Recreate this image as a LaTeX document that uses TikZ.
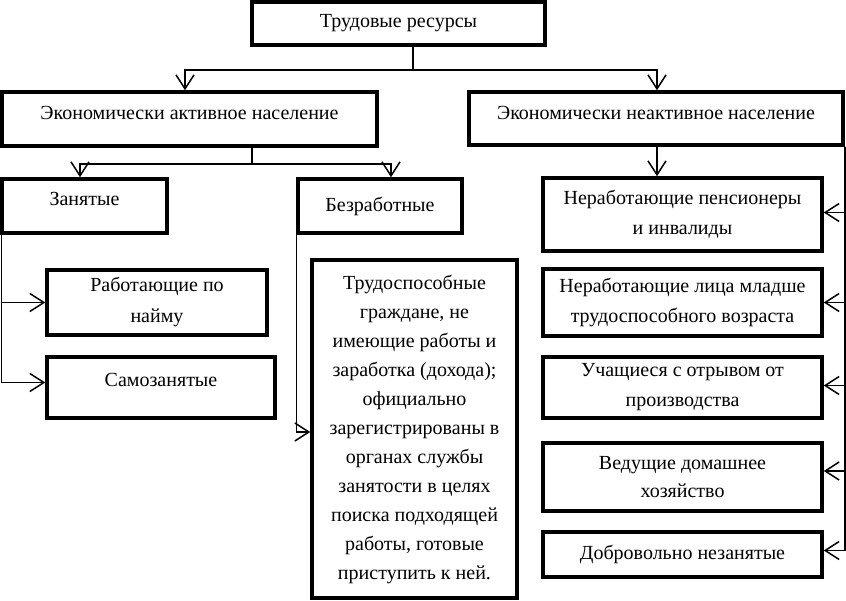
\documentclass[tikz,border=0pt]{standalone}
\usepackage{fontspec}
\setmainfont{Liberation Serif}
\usetikzlibrary{arrows.meta,calc}
\begin{document}
\begin{tikzpicture}[x=1pt,y=-1pt,
  box/.style={draw,line width=3.5pt,rectangle,inner sep=0pt,align=center,
    font=\fontsize{20}{30}\selectfont},
  conn/.style={line width=1.5pt},
  arr/.style={conn,-{Straight Barb[length=14pt,width=18pt,line width=1.5pt]}}]
\useasboundingbox (0,0) rectangle (846,601);
\node[box,minimum width=293,minimum height=43] (top) at (398.5,23.5) {Трудовые ресурсы};
\node[box,minimum width=375,minimum height=54,text depth=12pt] (act) at (189.5,119) {Экономически активное население};
\node[box,minimum width=374,minimum height=53,text depth=12pt] (inact) at (656,118.5) {Экономически неактивное население};
\node[box,minimum width=165,minimum height=54,text depth=14pt] (zan) at (84.5,206) {Занятые};
\node[box,minimum width=164,minimum height=54] (bez) at (380,206) {Безработные};
\node[box,minimum width=220,minimum height=65,font=\fontsize{20}{31}\selectfont] (rab) at (157,302.5) {Работающие по\\найму};
\node[box,minimum width=228,minimum height=61,text depth=16pt] (sam) at (161,387.5) {Самозанятые};
\node[box,minimum width=205,minimum height=338,font=\fontsize{20}{29}\selectfont] (big) at (414.5,429) {Трудоспособные\\граждане, не\\имеющие работы и\\заработка (дохода);\\официально\\зарегистрированы в\\органах службы\\занятости в целях\\поиска подходящей\\работы, готовые\\приступить к ней.};
\node[box,minimum width=279,minimum height=73] (r1) at (682.5,214.5) {Неработающие пенсионеры\\и инвалиды};
\node[box,minimum width=279,minimum height=67] (r2) at (682.5,302.5) {Неработающие лица младше\\трудоспособного возраста};
\node[box,minimum width=279,minimum height=61] (r3) at (682.5,387.5) {Учащиеся с отрывом от\\производства};
\node[box,minimum width=279,minimum height=68,font=\fontsize{20}{28}\selectfont] (r4) at (682.5,477) {Ведущие домашнее\\хозяйство};
\node[box,minimum width=279,minimum height=45] (r5) at (682.5,554.5) {Добровольно незанятые};
% junction coordinates
\coordinate (j1) at (413,70);
\coordinate (j2) at (252,164);
\coordinate (xa) at (185,0);
\coordinate (xi) at (657,0);
\coordinate (xz) at (80,0);
\coordinate (xb) at (391,0);
% top -> active / inactive
\draw[conn] (top.south -| j1) -- (j1);
\draw[arr] (j1) -| (act.north -| xa);
\draw[arr] (j1) -| (inact.north -| xi);
% active -> zan / bez
\draw[conn] (act.south -| j2) -- (j2);
\draw[arr] (j2) -| (zan.north -| xz);
\draw[arr] (j2) -| (bez.north -| xb);
% inactive -> r1
\draw[arr] (inact.south -| xi) -- (r1.north -| xi);
% zan -> rab, sam
\draw[arr] ([xshift=1pt]zan.south west) |- (rab.west);
\draw[arr] ([xshift=1pt]zan.south west) |- ([yshift=5pt]sam.west);
% bez -> big
\draw[arr] (bez.south west) |- ([yshift=-3pt]big.west);
% inactive right bracket
\draw[arr] (inact.south east) |- ([yshift=2pt]r1.east);
\draw[arr] (inact.south east) |- (r2.east);
\draw[arr] (inact.south east) |- ([yshift=2pt]r3.east);
\draw[arr] (inact.south east) |- ([yshift=6pt]r4.east);
\draw[arr] (inact.south east) |- ([yshift=4pt]r5.east);
\end{tikzpicture}
\end{document}
